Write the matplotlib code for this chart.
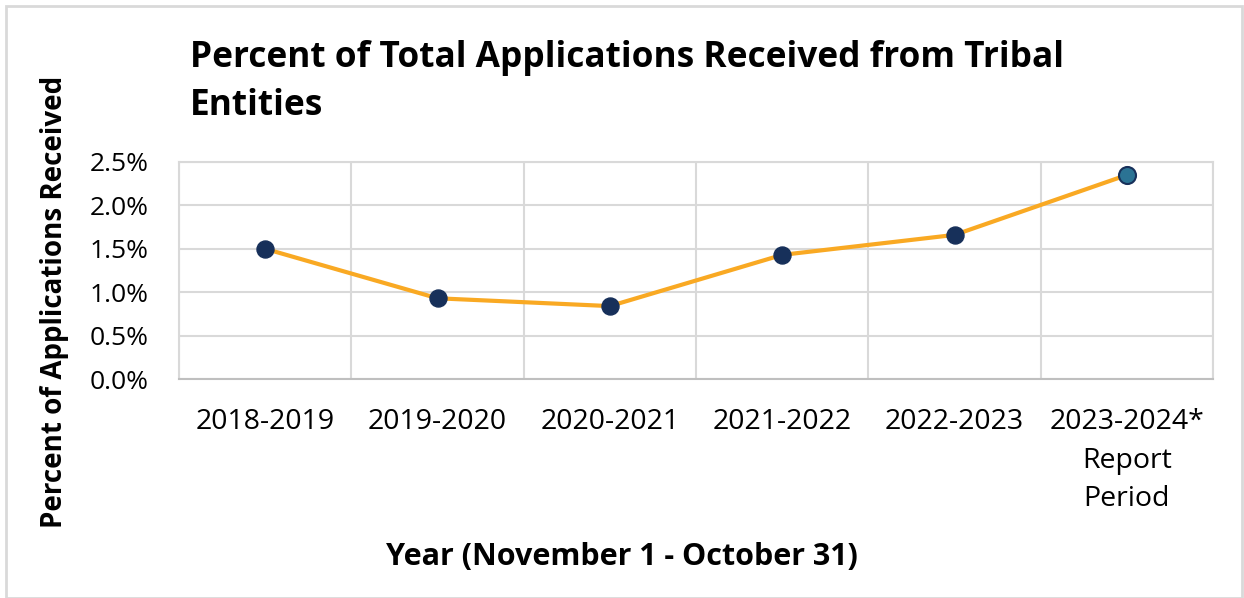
import matplotlib
matplotlib.use("Agg")
from matplotlib import pyplot as plt
from matplotlib.ticker import PercentFormatter
from matplotlib.patches import Rectangle

# data
years = ["2018-2019", "2019-2020", "2020-2021", "2021-2022", "2022-2023",
         "2023-2024*\nReport\nPeriod"]
pct = [1.50, 0.93, 0.84, 1.43, 1.66, 2.35]
yticks = [0.0, 0.5, 1.0, 1.5, 2.0, 2.5]

plt.rcParams["font.family"] = ["Open Sans", "DejaVu Sans"]

fig = plt.figure(figsize=(12.44, 5.98), dpi=100)
# chart border
fig.patches.append(Rectangle((6 / 1244, 0), 1236 / 1244, 1 - 6 / 598,
                             transform=fig.transFigure, fill=False,
                             edgecolor="#d9d9d9", linewidth=2))

ax = fig.add_axes([0.1439, 0.3662, 0.8312, 0.3629])
x = list(range(len(years)))
ax.plot(x, pct, color="#F9A923", linewidth=3, zorder=2)
ax.scatter(x[:-1], pct[:-1], s=150, color="#17305A", zorder=3)
ax.scatter(x[-1:], pct[-1:], s=150, color="#2B7394", edgecolor="#17305A",
           linewidth=1.5, zorder=3)

ax.set_xlim(-0.5, len(years) - 0.5)
ax.set_ylim(0, 2.5)
ax.set_yticks(yticks)
ax.yaxis.set_major_formatter(PercentFormatter(decimals=1))
ax.set_xticks(x)
ax.set_xticklabels(years, va="top", linespacing=1.5)
ax.set_xticks([i - 0.5 for i in range(len(years) + 1)], minor=True)
ax.tick_params(axis="both", which="both", length=0, colors="black")
ax.tick_params(axis="x", pad=21, labelsize=20.5)
ax.tick_params(axis="y", pad=22, labelsize=19)
ax.grid(True, axis="y", color="#d9d9d9", linewidth=1.5)
ax.grid(True, axis="x", which="minor", color="#d9d9d9", linewidth=1.5)
for s in ["top", "right", "left"]:
    ax.spines[s].set_color("#d9d9d9")
    ax.spines[s].set_linewidth(1.5)
ax.spines["bottom"].set_color("#bfbfbf")
ax.spines["bottom"].set_linewidth(1.5)
ax.set_axisbelow(True)

fig.text(190 / 1244, 1 - 67 / 598,
         "Percent of Total Applications Received from Tribal",
         fontsize=25.4, fontweight="bold", ha="left", va="baseline")
fig.text(190 / 1244, 1 - 115 / 598, "Entities",
         fontsize=25.4, fontweight="bold", ha="left", va="baseline")
fig.text(55 / 1244, 1 - 302 / 598, "Percent of Applications Received",
         fontsize=20, fontweight="bold", rotation=90, ha="center",
         va="center")
fig.text(622 / 1244, 1 - 557 / 598, "Year (November 1 - October 31)",
         fontsize=22, fontweight="bold", ha="center", va="center")

fig.savefig("out.png", dpi=100)
